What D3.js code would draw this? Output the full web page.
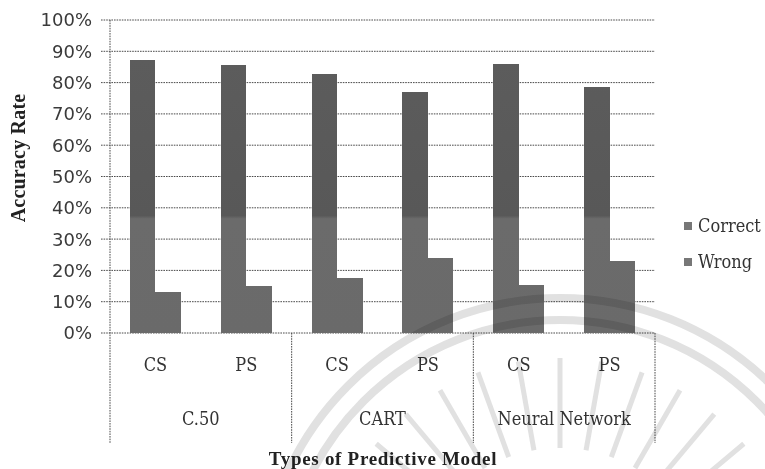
<!DOCTYPE html>
<html>
<head>
<meta charset="utf-8">
<script src="https://cdn.jsdelivr.net/npm/d3@7"></script>
<style>
  html, body { margin: 0; padding: 0; background: #fff; }
  svg { display: block; }
</style>
</head>
<body>
<svg id="chart" width="765" height="469"></svg>
<script>
// Accuracy of three predictive models on CS and PS samples
const models = ["C.50", "CART", "Neural Network"];
const samples = ["CS", "PS"];
const series = ["Correct", "Wrong"];
// values in the order C.50 CS, C.50 PS, CART CS, CART PS, NN CS, NN PS
const correct = [0.872, 0.857, 0.829, 0.770, 0.861, 0.786];
const wrong   = [0.131, 0.149, 0.177, 0.240, 0.152, 0.229];
const yTicks = [0, 0.1, 0.2, 0.3, 0.4, 0.5, 0.6, 0.7, 0.8, 0.9, 1.0];

const rows = [];
models.forEach((m, i) => samples.forEach((s, j) => {
  const k = i * samples.length + j;
  rows.push({ model: m, sample: s, Correct: correct[k], Wrong: wrong[k] });
}));

const svg = d3.select("#chart");
const plot = { left: 110, right: 655, top: 20, bottom: 333 };

const y = d3.scaleLinear().domain([0, 1]).range([plot.bottom, plot.top]);
const xModel = d3.scaleBand().domain(models).range([plot.left, plot.right]);
const xSample = d3.scaleBand().domain(samples).range([0, xModel.bandwidth()]);
const xSeries = d3.scaleBand().domain(series).range([0, xSample.bandwidth()])
  .paddingInner(0).paddingOuter(0.78);

// scanned-print shading: darker upper band, lighter lower band
const defs = svg.append("defs");
const grad = defs.append("linearGradient").attr("id", "barFill")
  .attr("gradientUnits", "userSpaceOnUse")
  .attr("x1", 0).attr("x2", 0).attr("y1", y(1)).attr("y2", y(0));
const split = (y(0.375) - y(1)) / (y(0) - y(1));
grad.append("stop").attr("offset", 0).attr("stop-color", "#5d5d5d");
grad.append("stop").attr("offset", split).attr("stop-color", "#585858");
grad.append("stop").attr("offset", split + 0.01).attr("stop-color", "#6b6b6b");
grad.append("stop").attr("offset", 1).attr("stop-color", "#6a6a6a");

const dotted = "1.6,1";
const ink = "#4a4a4a";

// horizontal gridlines with small ticks to the left of the axis
svg.append("g").selectAll("line").data(yTicks).join("line")
  .attr("x1", plot.left - 9).attr("x2", plot.right)
  .attr("y1", d => y(d)).attr("y2", d => y(d))
  .attr("stroke", ink).attr("stroke-width", 1).attr("stroke-dasharray", dotted);

// y axis line
svg.append("line")
  .attr("x1", plot.left).attr("x2", plot.left)
  .attr("y1", y(1)).attr("y2", 443)
  .attr("stroke", ink).attr("stroke-dasharray", dotted);

// group separators reaching down through the category labels
svg.append("g").selectAll("line").data(models).join("line")
  .attr("x1", d => xModel(d) + xModel.bandwidth())
  .attr("x2", d => xModel(d) + xModel.bandwidth())
  .attr("y1", y(0)).attr("y2", 443)
  .attr("stroke", ink).attr("stroke-dasharray", dotted);

// y tick labels
const yFmt = d3.format(".0%");
svg.append("g").selectAll("text").data(yTicks).join("text")
  .attr("x", 92).attr("y", d => y(d))
  .attr("dy", "0.36em")
  .attr("text-anchor", "end")
  .attr("font-family", "DejaVu Sans")
  .attr("font-size", 18)
  .attr("fill", "#3a3a3a")
  .text(d => yFmt(d));

// bars
const bars = svg.append("g").attr("shape-rendering", "crispEdges");
rows.forEach(r => {
  const x0 = xModel(r.model) + xSample(r.sample);
  series.forEach(s => {
    const left = Math.round(x0 + xSeries(s));
    const right = Math.round(x0 + xSeries(s) + xSeries.bandwidth());
    bars.append("rect")
      .attr("x", left)
      .attr("width", right - left)
      .attr("y", y(r[s]))
      .attr("height", y(0) - y(r[s]))
      .attr("fill", "url(#barFill)");
  });
});

// category labels
const catFont = "DejaVu Serif Condensed, DejaVu Serif";
svg.append("g").selectAll("text").data(rows).join("text")
  .attr("x", d => xModel(d.model) + xSample(d.sample) + xSample.bandwidth() / 2)
  .attr("y", 371)
  .attr("text-anchor", "middle")
  .attr("font-family", catFont)
  .attr("font-size", 18)
  .attr("fill", "#333")
  .text(d => d.sample);

svg.append("g").selectAll("text").data(models).join("text")
  .attr("x", d => xModel(d) + xModel.bandwidth() / 2)
  .attr("y", 425)
  .attr("text-anchor", "middle")
  .attr("font-family", catFont)
  .attr("font-size", 18)
  .attr("fill", "#333")
  .text(d => d);

// axis titles
svg.append("text")
  .attr("transform", "translate(25,158) rotate(-90)")
  .attr("text-anchor", "middle")
  .attr("font-family", "Liberation Serif")
  .attr("font-weight", "bold")
  .attr("font-size", 20)
  .attr("letter-spacing", 0.2)
  .attr("fill", "#222")
  .text("Accuracy Rate");

svg.append("text")
  .attr("x", 383).attr("y", 465)
  .attr("text-anchor", "middle")
  .attr("font-family", "Liberation Serif")
  .attr("font-weight", "bold")
  .attr("font-size", 19)
  .attr("letter-spacing", 0.7)
  .attr("fill", "#222")
  .text("Types of Predictive Model");

// legend
const legend = svg.append("g").selectAll("g").data(series).join("g")
  .attr("transform", (d, i) => `translate(684,${226 + i * 36})`);
legend.append("rect")
  .attr("x", 0).attr("y", -4).attr("width", 8).attr("height", 8)
  .attr("fill", "#777");
legend.append("text")
  .attr("x", 14).attr("dy", "0.36em")
  .attr("font-family", catFont)
  .attr("font-size", 18)
  .attr("fill", "#333")
  .text(d => d);

// faint seal printed across the lower right of the page
const seal = svg.append("g").attr("fill", "none").attr("stroke", "#9a9a9a")
  .attr("opacity", 0.3).style("mix-blend-mode", "multiply");
const cx = 560, cy = 598;
[300, 278].forEach(r => {
  seal.append("circle").attr("cx", cx).attr("cy", cy).attr("r", r)
    .attr("stroke-width", 8);
});
d3.range(-70, 71, 10).forEach(a => {
  const t = (a - 90) * Math.PI / 180;
  seal.append("line")
    .attr("x1", cx + Math.cos(t) * 150).attr("y1", cy + Math.sin(t) * 150)
    .attr("x2", cx + Math.cos(t) * 240).attr("y2", cy + Math.sin(t) * 240)
    .attr("stroke-width", 5);
});
</script>
</body>
</html>
